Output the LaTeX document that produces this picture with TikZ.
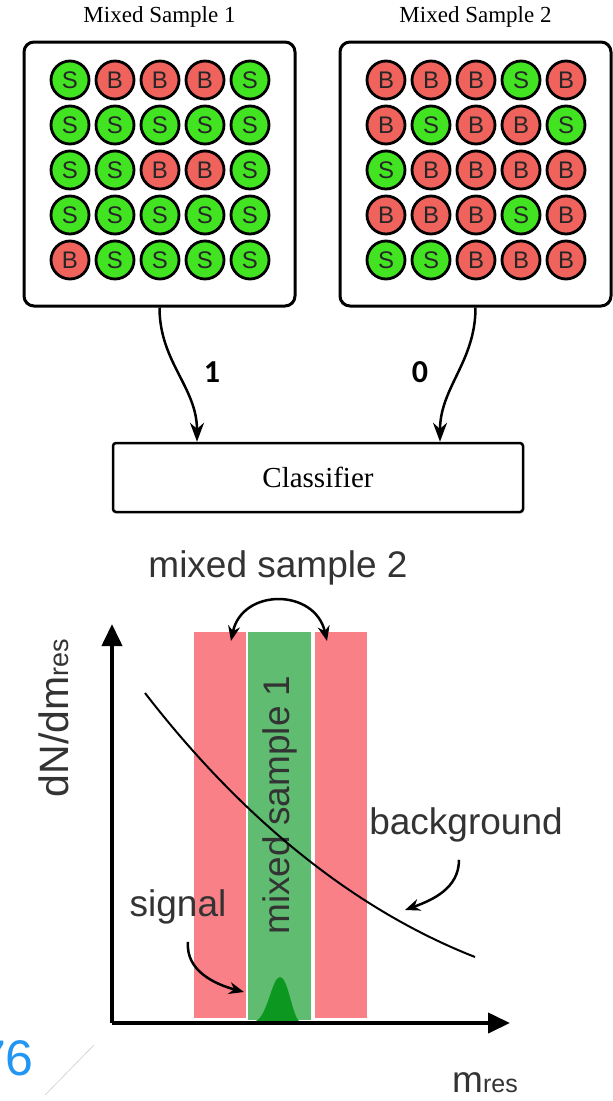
\documentclass[tikz,border=0pt]{standalone}
\usepackage{fontspec}
\setmainfont{Liberation Serif}
\setsansfont{Liberation Sans}
\newfontfamily\digitfont{Carlito}
\usetikzlibrary{arrows.meta}
\definecolor{sgreen}{RGB}{66,228,34}
\definecolor{bred}{RGB}{240,98,92}
\definecolor{bandred}{RGB}{250,128,136}
\definecolor{bandgreen}{RGB}{95,188,112}
\definecolor{peakgreen}{RGB}{12,152,32}
\definecolor{pageblue}{RGB}{33,150,243}

\begin{document}
\begin{tikzpicture}[x=1pt,y=-1pt,
  title/.style={font=\fontsize{23}{23}\selectfont},
  samplebox/.style={draw,line width=3pt,rounded corners=10pt,minimum width=271pt,minimum height=264pt},
  ballS/.style={circle,draw,line width=2.8pt,fill=sgreen,minimum size=38pt,inner sep=0pt,text=black!85,font=\fontsize{24}{24}\sffamily},
  ballB/.style={ballS,fill=bred},
  flow/.style={line width=2.5pt,-{Stealth[length=19pt,width=14pt]}},
  digit/.style={font=\fontsize{32}{32}\digitfont\bfseries},
  clfbox/.style={draw,line width=2.5pt,rounded corners=3pt,minimum width=410pt,minimum height=69pt,font=\fontsize{29}{29}\selectfont},
  bigtxt/.style={text=black!80,font=\fontsize{37}{37}\sffamily},
  axis/.style={line width=4pt,-{Triangle[length=22pt,width=20pt]}},
  curvearrow/.style={line width=2.5pt,-{Stealth[length=15pt,width=12pt]}}]
\useasboundingbox (0,0) rectangle (613,1101);

\node[title] (t1) at (159.5,17) {Mixed Sample 1};
\node[title] (t2) at (475.5,17) {Mixed Sample 2};
\node[samplebox] (box1) at (159.5,174) {};
\node[samplebox] (box2) at (475.5,174) {};
\foreach \l [count=\i from 0] in {S,B,B,B,S, S,S,S,S,S, S,S,B,B,S, S,S,S,S,S, B,S,S,S,S} {
  \pgfmathtruncatemacro\c{mod(\i,5)}
  \pgfmathtruncatemacro\r{\i/5}
  \node[ball\l] (a\i) at (70+45*\c,80+45*\r) {\l};
}
\foreach \l [count=\i from 0] in {B,B,B,S,B, B,S,B,B,S, S,B,B,B,B, B,B,B,S,B, S,S,B,B,B} {
  \pgfmathtruncatemacro\c{mod(\i,5)}
  \pgfmathtruncatemacro\r{\i/5}
  \node[ball\l] (b\i) at (386+45*\c,80+45*\r) {\l};
}

\node[clfbox] (clf) at (318,477.5) {Classifier};
\draw[flow] (box1.south) to[out=-90,in=90] ([xshift=-121pt]clf.north);
\draw[flow] (box2.south) to[out=-90,in=90] ([xshift=122pt]clf.north);
\node[digit] (one) at (212,372) {1};
\node[digit] (zero) at (420,372) {0};

\fill[bandred] (193.5,632) rectangle (245.5,1018);
\fill[bandgreen] (248,632) rectangle (311,1020);
\fill[bandred] (315,632) rectangle (367,1018);
\fill[peakgreen] (256,1021) .. controls (268,1015) and (272,977) .. (280,977) .. controls (288,977) and (292,1015) .. (299,1021) -- cycle;
\node[bigtxt,rotate=90] (ms1) at (280,805) {mixed sample 1};

\coordinate (origin) at (112,1023);
\coordinate (ytip) at (112,624);
\coordinate (xtip) at (510,1023);
\draw[axis] (origin) -- (ytip);
\draw[axis] (origin) -- (xtip);
\node[bigtxt,rotate=90] (ylab) at (54,718) {\fontsize{41}{41}\selectfont dN/dm{\fontsize{27}{27}\selectfont res}};
\node[bigtxt] (xlab) at (485,1083) {m{\fontsize{25}{25}\selectfont res}};

\draw[line width=2pt] (145,693) .. controls (220,790) and (330,900) .. (475,957);

\node[bigtxt] (ms2) at (278,568) {mixed sample 2};
\coordinate (ms2l) at (231,641);
\coordinate (ms2r) at (327,641);
\draw[line width=2.5pt,{Stealth[length=15pt,width=12pt]}-{Stealth[length=15pt,width=12pt]}] (ms2l) .. controls (242,588) and (315,588) .. (ms2r);

\node[bigtxt] (bg) at (466,825) {background};
\coordinate (bgpt) at (405,910);
\draw[curvearrow] ([xshift=-7pt,yshift=-14pt]bg.south) to[out=-90,in=20] (bgpt);

\node[bigtxt] (sig) at (178,907) {signal};
\coordinate (sigpt) at (244,992);
\draw[curvearrow] ([xshift=10pt,yshift=-14pt]sig.south) to[out=-95,in=165] (sigpt);

\node[text=pageblue,font=\fontsize{50}{50}\sffamily] (pg) at (6,1058) {76};
\draw[black!20,line width=0.6pt] (94,1045) -- (45,1095);
\end{tikzpicture}
\end{document}
